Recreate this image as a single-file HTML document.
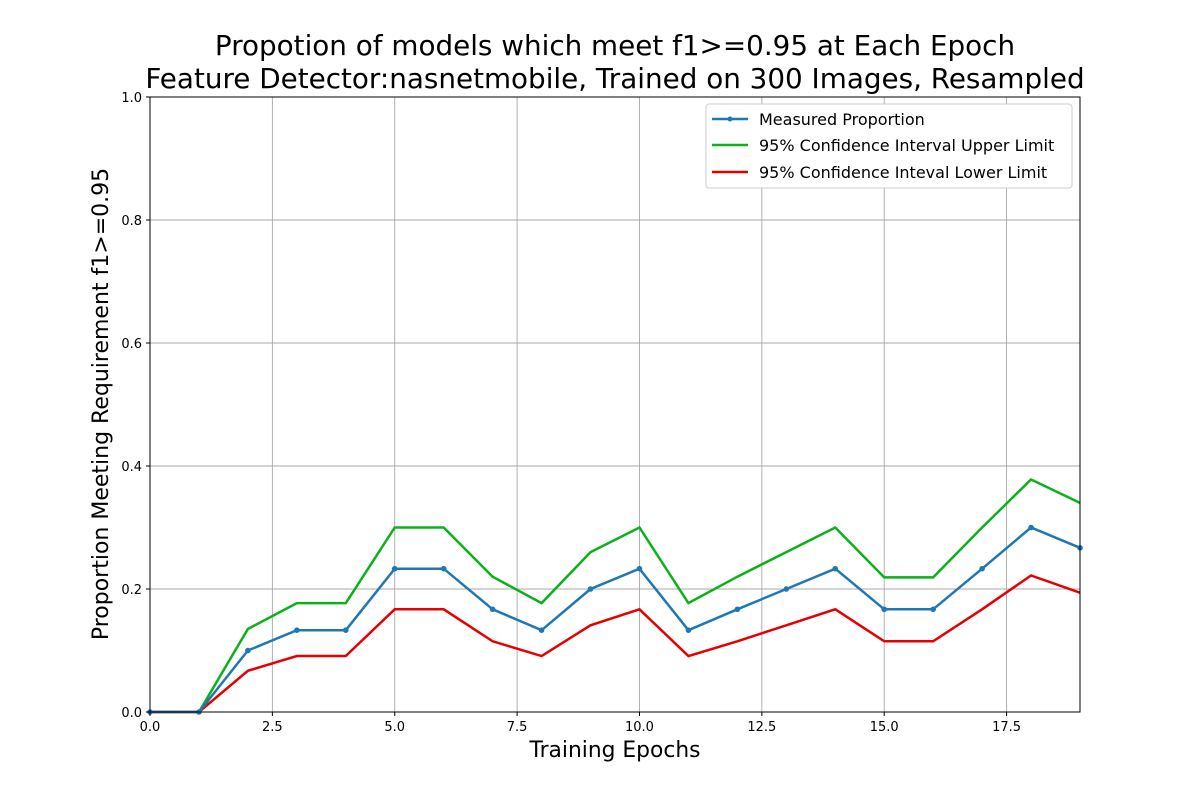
<!DOCTYPE html>
<html><head><meta charset="utf-8"><style>
body{margin:0;background:#fff;}
svg{font-family:"DejaVu Sans","Liberation Sans",sans-serif;}
</style></head><body>
<svg id="chart" width="1200" height="800">
<text x="615" y="55" font-size="27.8" text-anchor="middle">Propotion of models which meet f1&gt;=0.95 at Each Epoch</text>
<text x="615" y="88" font-size="27.8" text-anchor="middle">Feature Detector:nasnetmobile, Trained on 300 Images, Resampled</text>
<text x="615" y="757" font-size="21.8" text-anchor="middle">Training Epochs</text>
<text transform="translate(108,404) rotate(-90)" font-size="22" text-anchor="middle">Proportion Meeting Requirement f1&gt;=0.95</text>
<g id="grid"></g><g id="series"></g><g id="ticks"></g>
<rect x="150" y="97" width="930" height="615" fill="none" stroke="#000" stroke-width="1"/>
<g>
<rect x="706" y="104" width="366" height="84" fill="#fff" stroke="#ccc" rx="3"/>
<line x1="712" y1="119" x2="748" y2="119" stroke="#1f77b4" stroke-width="2.5"/><circle cx="730" cy="119" r="2.5" fill="#1f77b4"/>
<text x="759" y="125" font-size="16">Measured Proportion</text>
<line x1="712" y1="145" x2="748" y2="145" stroke="#0cb11a" stroke-width="2.5"/>
<text x="759" y="151" font-size="16">95% Confidence Interval Upper Limit</text>
<line x1="712" y1="172" x2="748" y2="172" stroke="#e60000" stroke-width="2.5"/>
<text x="759" y="178" font-size="16">95% Confidence Inteval Lower Limit</text>
</g>
</svg>
<script>
const epochs=[0,1,2,3,4,5,6,7,8,9,10,11,12,13,14,15,16,17,18,19];
const measured=[0,0,0.1,0.133,0.133,0.233,0.233,0.167,0.133,0.2,0.233,0.133,0.167,0.2,0.233,0.167,0.167,0.233,0.3,0.267];
const upper=[0,0,0.135,0.177,0.177,0.3,0.3,0.22,0.177,0.26,0.3,0.177,0.22,0.26,0.3,0.219,0.219,0.3,0.378,0.34];
const lower=[0,0,0.067,0.091,0.091,0.167,0.167,0.115,0.091,0.141,0.167,0.091,0.115,0.141,0.167,0.115,0.115,0.167,0.222,0.194];
const xTicks=[0,2.5,5,7.5,10,12.5,15,17.5];
const yTicks=[0,0.2,0.4,0.6,0.8,1.0];
const NS="http://www.w3.org/2000/svg";
const X=v=>150+v*930/19, Y=v=>712-v*615;
function mk(t,a,p){const e=document.createElementNS(NS,t);for(const k in a)e.setAttribute(k,a[k]);p.appendChild(e);return e;}
const g=document.getElementById('grid'),tk=document.getElementById('ticks'),s=document.getElementById('series');
xTicks.forEach(v=>{
 const l=mk('line',{x1:X(v),x2:X(v),y1:97,y2:712,stroke:'#a8a8a8','stroke-width':0.9},g);
 
 mk('line',{x1:X(v),x2:X(v),y1:712,y2:716,stroke:'#000'},tk);
 const t=mk('text',{x:X(v),y:731,'font-size':13,'text-anchor':'middle'},tk);t.textContent=v.toFixed(1);
 
});
yTicks.forEach(v=>{
 const l=mk('line',{x1:150,x2:1080,y1:Y(v),y2:Y(v),stroke:'#a8a8a8','stroke-width':0.9},g);
 
 mk('line',{x1:146,x2:150,y1:Y(v),y2:Y(v),stroke:'#000'},tk);
 const t=mk('text',{x:142,y:Y(v)+5,'font-size':13,'text-anchor':'end'},tk);t.textContent=v.toFixed(1);
 
});
function line(vals,c,name,dots){
 const p=mk('polyline',{points:vals.map((v,i)=>X(epochs[i])+','+Y(v)).join(' '),fill:'none',stroke:c,'stroke-width':2.5},s);
 
 if(dots)vals.forEach((v,i)=>{const c2=mk('circle',{cx:X(epochs[i]),cy:Y(v),r:2.8,fill:c},s);
  });
}
line(upper,'#0cb11a','upper-limit-line',false);
line(lower,'#e60000','lower-limit-line',false);
line(measured,'#1f77b4','measured-line',true);
</script>
</body></html>
